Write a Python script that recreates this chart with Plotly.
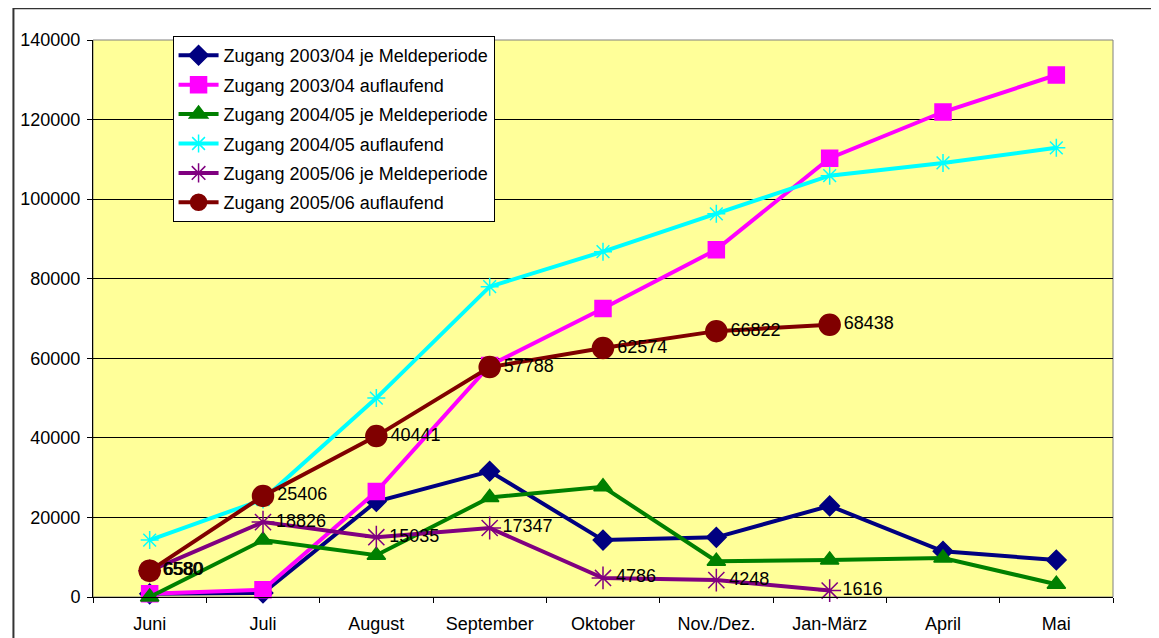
import plotly.graph_objects as go

monate = ['Juni', 'Juli', 'August', 'September', 'Oktober', 'Nov./Dez.', 'Jan-März', 'April', 'Mai']

zugang_0304 = [800, 1000, 24000, 31600, 14300, 15000, 22900, 11500, 9300]
auflaufend_0304 = [800, 1800, 26500, 58200, 72500, 87300, 110300, 121900, 131200]
zugang_0405 = [0, 14300, 10500, 25000, 27700, 9000, 9300, 9800, 3200]
auflaufend_0405 = [14300, 24500, 50000, 78000, 86800, 96300, 105900, 109100, 112900]
zugang_0506 = [6580, 18826, 15035, 17347, 4786, 4248, 1616]
auflaufend_0506 = [6580, 25406, 40441, 57788, 62574, 66822, 68438]

font = 'Arial, Liberation Sans, sans-serif'


def serie(name, y, farbe, symbol, size, labels=False):
    return go.Scatter(
        x=monate[:len(y)], y=y, name=name, legendgroup=name,
        mode='lines+markers+text' if labels else 'lines+markers',
        text=[str(v) for v in y] if labels else None,
        textposition='middle right',
        textfont=dict(family=font, size=18, color='black'),
        line=dict(color=farbe, width=4),
        marker=dict(color=farbe, symbol=symbol, size=size,
                    line=dict(color=farbe, width=1.5)),
        cliponaxis=False,
    )


traces = [
    serie('Zugang 2003/04 je Meldeperiode', zugang_0304, '#000080', 'diamond', 15),
    serie('Zugang 2003/04 auflaufend', auflaufend_0304, '#FF00FF', 'square', 16),
    serie('Zugang 2004/05 je Meldeperiode', zugang_0405, '#008000', 'triangle-up', 16),
    serie('Zugang 2004/05 auflaufend', auflaufend_0405, '#00FFFF', 'asterisk-open', 15),
    serie('Zugang 2005/06 je Meldeperiode', zugang_0506, '#800080', 'asterisk-open', 19, True),
    serie('Zugang 2005/06 auflaufend', auflaufend_0506, '#800000', 'circle', 21, True),
]

fig = go.Figure(traces)

# die Seite hat 8px Rand (body margin), deshalb die Ränder hier etwas verschoben
fig.update_layout(
    width=1159, height=638,
    margin=dict(l=82, r=54, t=32, b=48),
    paper_bgcolor='white',
    plot_bgcolor='#FFFF99',
    font=dict(family=font, size=18, color='black'),
    showlegend=True,
    legend=dict(
        x=0.078, y=1.007, xanchor='left', yanchor='top',
        bgcolor='white', bordercolor='black', borderwidth=1,
        font=dict(size=18), tracegroupgap=3, itemwidth=40,
    ),
    xaxis=dict(
        type='category', range=[-0.5, 8.5], showgrid=False,
        ticks='outside', tickson='boundaries', ticklen=5, tickcolor='black',
        showline=True, linecolor='black', linewidth=1,
        tickfont=dict(size=18), ticklabelstandoff=10,
    ),
    yaxis=dict(
        range=[0, 140000], dtick=20000, showgrid=True, gridcolor='black', gridwidth=1,
        ticks='outside', ticklen=5, tickcolor='black', zeroline=False,
        showline=True, linecolor='black', linewidth=1,
        tickfont=dict(size=18), tickformat='d', ticklabelstandoff=3,
    ),
    shapes=[
        dict(type='rect', xref='paper', yref='paper', x0=0, x1=1, y0=0, y1=1,
             line=dict(color='#808080', width=1), layer='below'),
        dict(type='rect', xref='paper', yref='paper', x0=-0.078, x1=1.05, y0=-0.1, y1=1.057,
             line=dict(color='#333333', width=2)),
    ],
)

fig.write_html("out.html")
